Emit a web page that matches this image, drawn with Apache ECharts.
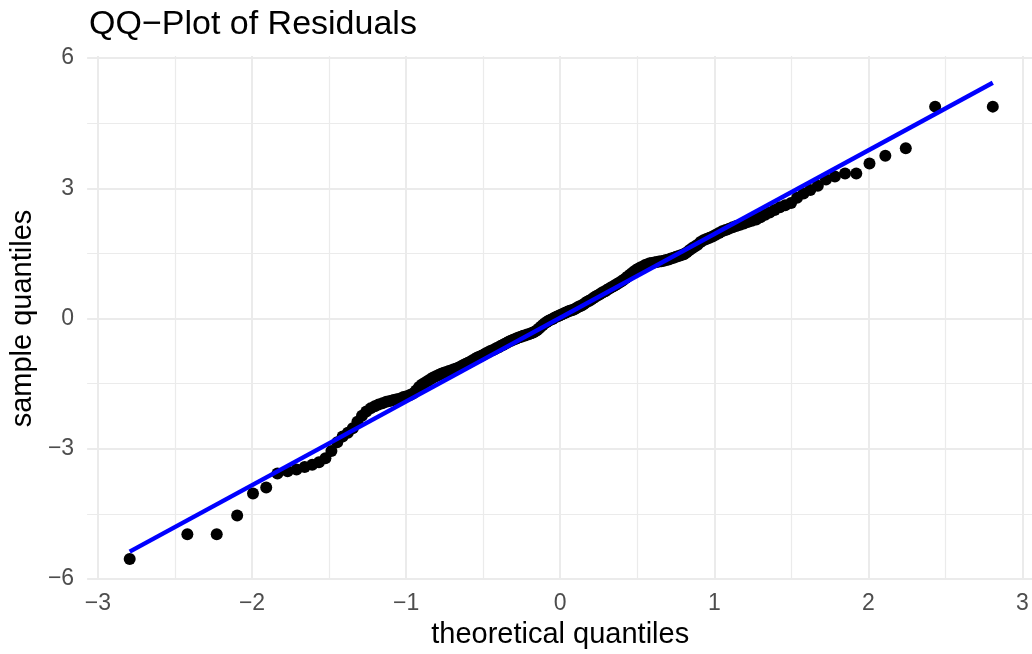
<!DOCTYPE html>
<html>
<head>
<meta charset="utf-8">
<script src="https://cdn.jsdelivr.net/npm/echarts@6/dist/echarts.min.js"></script>
<style>
  html, body { margin: 0; padding: 0; background: #fff; }
  #main { width: 1032px; height: 654px; }
</style>
</head>
<body>
<div id="main"></div>
<script>
// theoretical normal quantiles (n = 200), x of each point
var theoretical = [
  -2.807, -2.432, -2.241, -2.108, -2.005, -1.919, -1.846, -1.780, -1.722, -1.669,
  -1.620, -1.576, -1.534, -1.495, -1.457, -1.422, -1.388, -1.356, -1.326, -1.296,
  -1.268, -1.240, -1.213, -1.188, -1.163, -1.138, -1.115, -1.092, -1.069, -1.047,
  -1.026, -1.005, -0.984, -0.964, -0.944, -0.925, -0.906, -0.887, -0.869, -0.851,
  -0.833, -0.815, -0.798, -0.781, -0.764, -0.747, -0.731, -0.714, -0.698, -0.682,
  -0.667, -0.651, -0.636, -0.620, -0.605, -0.590, -0.576, -0.561, -0.546, -0.532,
  -0.518, -0.503, -0.489, -0.475, -0.461, -0.447, -0.433, -0.420, -0.406, -0.392,
  -0.379, -0.366, -0.352, -0.339, -0.326, -0.313, -0.299, -0.286, -0.273, -0.260,
  -0.248, -0.235, -0.222, -0.209, -0.196, -0.183, -0.171, -0.158, -0.145, -0.133,
  -0.120, -0.107, -0.094, -0.082, -0.069, -0.056, -0.044, -0.031, -0.019, -0.006,
  0.006, 0.019, 0.031, 0.044, 0.056, 0.069, 0.082, 0.094, 0.107, 0.120,
  0.133, 0.145, 0.158, 0.171, 0.183, 0.196, 0.209, 0.222, 0.235, 0.248,
  0.260, 0.273, 0.286, 0.299, 0.313, 0.326, 0.339, 0.352, 0.366, 0.379,
  0.392, 0.406, 0.420, 0.433, 0.447, 0.461, 0.475, 0.489, 0.503, 0.518,
  0.532, 0.546, 0.561, 0.576, 0.590, 0.605, 0.620, 0.636, 0.651, 0.667,
  0.682, 0.698, 0.714, 0.731, 0.747, 0.764, 0.781, 0.798, 0.815, 0.833,
  0.851, 0.869, 0.887, 0.906, 0.925, 0.944, 0.964, 0.984, 1.005, 1.026,
  1.047, 1.069, 1.092, 1.115, 1.138, 1.163, 1.188, 1.213, 1.240, 1.268,
  1.296, 1.326, 1.356, 1.388, 1.422, 1.457, 1.495, 1.534, 1.576, 1.620,
  1.669, 1.722, 1.780, 1.846, 1.919, 2.005, 2.108, 2.241, 2.432, 2.807
];

// sorted residuals, y of each point
var sample = [
  -5.54, -4.97, -4.97, -4.54, -4.03, -3.89, -3.57, -3.52, -3.48, -3.42,
  -3.37, -3.31, -3.22, -3.05, -2.85, -2.72, -2.63, -2.53, -2.38, -2.24,
  -2.14, -2.07, -2.02, -1.98, -1.95, -1.92, -1.90, -1.88, -1.86, -1.84,
  -1.81, -1.79, -1.76, -1.73, -1.66, -1.58, -1.52, -1.48, -1.44, -1.40,
  -1.36, -1.33, -1.30, -1.27, -1.25, -1.23, -1.21, -1.19, -1.17, -1.15,
  -1.13, -1.10, -1.07, -1.04, -1.02, -0.99, -0.96, -0.93, -0.90, -0.88,
  -0.86, -0.83, -0.80, -0.78, -0.75, -0.73, -0.71, -0.68, -0.66, -0.63,
  -0.61, -0.58, -0.56, -0.53, -0.51, -0.49, -0.47, -0.45, -0.43, -0.42,
  -0.40, -0.39, -0.37, -0.36, -0.34, -0.32, -0.30, -0.27, -0.23, -0.19,
  -0.15, -0.11, -0.08, -0.05, -0.03, -0.01, 0.02, 0.04, 0.06, 0.08,
  0.10, 0.12, 0.14, 0.16, 0.18, 0.19, 0.21, 0.23, 0.26, 0.28,
  0.30, 0.33, 0.36, 0.39, 0.41, 0.44, 0.47, 0.50, 0.53, 0.55,
  0.58, 0.61, 0.63, 0.66, 0.69, 0.72, 0.74, 0.77, 0.80, 0.83,
  0.86, 0.89, 0.93, 0.97, 1.01, 1.05, 1.09, 1.12, 1.15, 1.18,
  1.20, 1.23, 1.25, 1.27, 1.28, 1.29, 1.30, 1.31, 1.32, 1.33,
  1.35, 1.36, 1.38, 1.40, 1.42, 1.44, 1.46, 1.48, 1.52, 1.57,
  1.62, 1.66, 1.70, 1.76, 1.80, 1.83, 1.86, 1.89, 1.93, 1.97,
  2.01, 2.04, 2.07, 2.10, 2.13, 2.16, 2.19, 2.22, 2.25, 2.28,
  2.33, 2.39, 2.44, 2.50, 2.56, 2.61, 2.66, 2.78, 2.88, 2.96,
  3.06, 3.20, 3.27, 3.34, 3.34, 3.57, 3.75, 3.92, 4.88, 4.88
];

// reference line end points
var lineX = [-2.807, 2.807];
var lineY = [-5.37, 5.43];

var xTicks = [-3, -2, -1, 0, 1, 2, 3];
var yTicks = [-6, -3, 0, 3, 6];

var FONT = "'Liberation Sans', Arial, sans-serif";
var GRID = '#EBEBEB';

function minus(v) {
  return String(v).replace('-', '\u2212');
}

var chart = echarts.init(document.getElementById('main'));

var points = theoretical.map(function (x, i) { return [x, sample[i]]; });
var lineData = lineX.map(function (x, i) { return [x, lineY[i]]; });

var option = {
  animation: false,
  backgroundColor: '#fff',
  textStyle: { fontFamily: FONT },
  title: {
    text: 'QQ\u2212Plot of Residuals',
    left: 84,
    top: 3,
    textStyle: { fontSize: 34, fontWeight: 'normal', color: '#000', fontFamily: FONT }
  },
  grid: [
    // panel for data + horizontal lines
    { left: 85, right: 0, top: 58, bottom: 75 },
    // -3..3 span for vertical lines and x labels
    { left: 97.9, right: 9.5, top: 56, bottom: 72 }
  ],
  xAxis: [{
    gridIndex: 0,
    type: 'value',
    min: -3.084,
    max: 3.062,
    show: false
  }, {
    gridIndex: 1,
    type: 'value',
    min: xTicks[0],
    max: xTicks[xTicks.length - 1],
    interval: 1,
    axisLine: { show: false },
    axisTick: { show: false },
    axisLabel: {
      margin: 12,
      fontSize: 23,
      color: '#4D4D4D',
      fontFamily: FONT,
      formatter: function (v) { return minus(v); }
    },
    splitLine: { show: true, lineStyle: { color: GRID, width: 2 } },
    minorTick: { show: false, splitNumber: 2 },
    minorSplitLine: { show: true, lineStyle: { color: GRID, width: 1.2 } },
    name: 'theoretical quantiles',
    nameLocation: 'middle',
    nameGap: 37,
    nameTextStyle: { fontSize: 29, color: '#000', fontFamily: FONT }
  }],
  yAxis: [{
    gridIndex: 0,
    type: 'value',
    min: yTicks[0],
    max: yTicks[yTicks.length - 1],
    interval: 3,
    axisLine: { show: false },
    axisTick: { show: false },
    axisLabel: {
      margin: 13,
      fontSize: 23,
      color: '#4D4D4D',
      fontFamily: FONT,
      formatter: function (v) { return minus(v); }
    },
    splitLine: { show: true, lineStyle: { color: GRID, width: 2 } },
    minorTick: { show: false, splitNumber: 2 },
    minorSplitLine: { show: true, lineStyle: { color: GRID, width: 1.2 } },
    name: 'sample quantiles',
    nameLocation: 'middle',
    nameRotate: 90,
    nameGap: 42,
    nameTextStyle: { fontSize: 29, color: '#000', fontFamily: FONT }
  }, {
    gridIndex: 1,
    type: 'value',
    min: -6,
    max: 6,
    show: false
  }],
  series: [{
    type: 'scatter',
    xAxisIndex: 0,
    yAxisIndex: 0,
    data: points,
    symbolSize: 12,
    itemStyle: { color: '#000', opacity: 1 },
    z: 2,
    clip: false
  }, {
    type: 'line',
    xAxisIndex: 0,
    yAxisIndex: 0,
    data: lineData,
    symbol: 'none',
    lineStyle: { color: '#0000FF', width: 4.5 },
    z: 3,
    clip: false
  }]
};

chart.setOption(option);
</script>
</body>
</html>
